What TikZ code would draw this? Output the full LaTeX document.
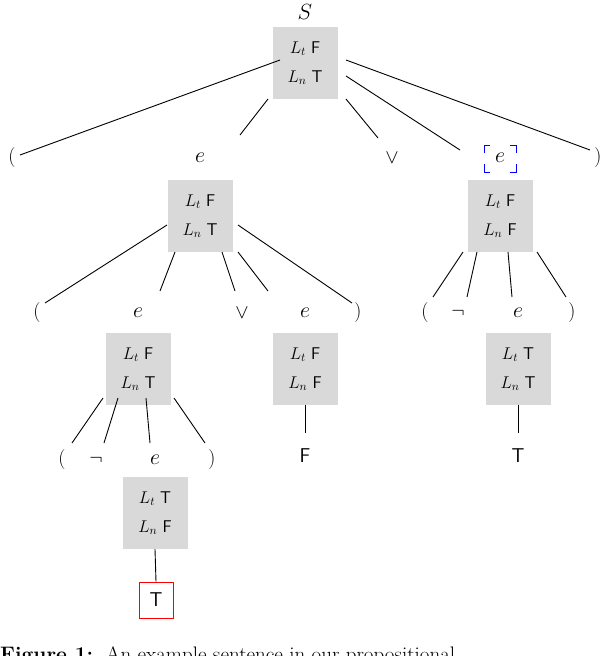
\RequirePackage{fix-cm}
\documentclass[tikz,border=0pt]{standalone}
\usepackage{fontspec}
\usepackage{amssymb}
\begin{document}
\begin{tikzpicture}[x=1pt,y=-1pt,
  lab/.style={inner sep=1pt,font=\fontsize{22}{24}\selectfont},
  sym/.style={inner sep=1pt,font=\fontsize{20}{24}\selectfont},
  box/.style={fill=black!15,minimum width=65pt,minimum height=72pt,inner sep=0pt,align=center,font=\fontsize{17}{29}\selectfont},
  edge/.style={line width=0.9pt}]
\useasboundingbox (0,0) rectangle (606,656);
\clip (0,0) rectangle (606,656);
\newcommand{\bx}[2]{$L_t$ \textsf{#1}\\ $L_n$ \textsf{#2}}
% root
\node[lab] (S) at (305,12) {$S$};
\node[box] (Sb) at (305,63) {\bx{F}{T}};
\node[sym] (p1) at (12,158) {(};
\node[lab] (e1) at (200,158) {$e$};
\node[box] (e1b) at (200,216) {\bx{F}{T}};
\node[sym] (or1) at (392,158) {$\vee$};
\node[lab] (e2) at (500,158) {$e$};
\draw[blue,line width=0.9pt] (484,153)--(484,145)--(490,145) (510,145)--(516,145)--(516,153)
  (484,164)--(484,172)--(490,172) (510,172)--(516,172)--(516,164);
\node[box] (e2b) at (500,216) {\bx{F}{F}};
\node[sym] (p2) at (598,158) {)};
\draw[edge] (280,60) -- (20,155);
\draw[edge] (268,99) -- (240,135);
\draw[edge] (346,99) -- (378,138);
\draw[edge] (346,76) -- (460,150);
\draw[edge] (346,60) -- (590,150);
% e1 children
\node[sym] (p3) at (37,313) {(};
\node[lab] (e3) at (138,313) {$e$};
\node[box] (e3b) at (138,369) {\bx{F}{T}};
\node[sym] (or2) at (242,313) {$\vee$};
\node[lab] (e4) at (305,313) {$e$};
\node[box] (e4b) at (305,369) {\bx{F}{F}};
\node[sym] (p4) at (358,313) {)};
\draw[edge] (167,225) -- (45,303);
\draw[edge] (175,252) -- (160,291);
\draw[edge] (222,252) -- (235,291);
\draw[edge] (238,252) -- (268,291);
\draw[edge] (238,225) -- (352,303);
% e2 children
\node[sym] (p5) at (425,313) {(};
\node[sym] (n1) at (458,313) {$\neg$};
\node[lab] (e5) at (518,313) {$e$};
\node[box] (e5b) at (518,369) {\bx{T}{T}};
\node[sym] (p6) at (572,313) {)};
\draw[edge] (463,252) -- (433,297);
\draw[edge] (477,252) -- (467,297);
\draw[edge] (508,252) -- (512,297);
\draw[edge] (537,252) -- (566,297);
% e3 children
\node[sym] (p7) at (62,460) {(};
\node[sym] (n2) at (96,460) {$\neg$};
\node[lab] (e6) at (155,460) {$e$};
\node[box] (e6b) at (155,513) {\bx{T}{F}};
\node[sym] (p8) at (212,460) {)};
\draw[edge] (103,398) -- (72,443);
\draw[edge] (118,398) -- (104,443);
\draw[edge] (146,398) -- (150,443);
\draw[edge] (174,398) -- (205,443);
% leaves
\node[sym,font=\fontsize{20}{24}\selectfont\sffamily] (f1) at (305,456) {F};
\draw[edge] (e4b.south) -- (305,433);
\node[sym,font=\fontsize{20}{24}\selectfont\sffamily] (t1) at (518,456) {T};
\draw[edge] (e5b.south) -- (518,433);
\node[draw=red,line width=0.9pt,minimum width=34pt,minimum height=36pt,inner sep=0pt,font=\fontsize{20}{24}\selectfont\sffamily] (t2) at (156,600) {T};
\draw[edge] (e6b.south) -- (t2.north);
% caption
\node[anchor=north west,inner sep=0pt,font=\fontsize{21}{24}\selectfont] (cap) at (0,646) {\textbf{Figure 1:}\ \ An example sentence in our propositional};
\end{tikzpicture}
\end{document}
